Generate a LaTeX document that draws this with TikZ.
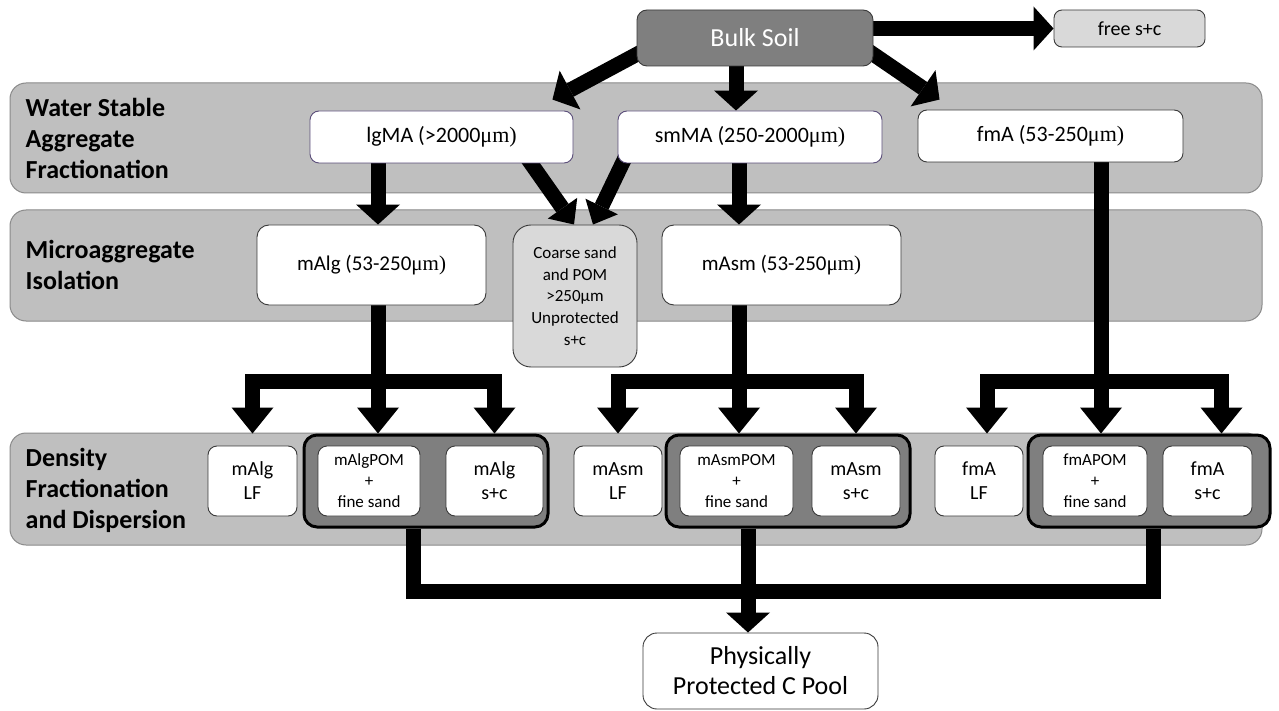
\documentclass[tikz,border=0pt]{standalone}
\usepackage{fontspec}
\setmainfont{Carlito}
\newfontfamily\mufont{Liberation Serif}
\usetikzlibrary{arrows.meta,calc}
\pgfdeclarelayer{bglayer}
\pgfdeclarelayer{midlayer}
\pgfsetlayers{bglayer,midlayer,main}
\definecolor{bandgray}{HTML}{BFBFBF}
\definecolor{bandedge}{HTML}{8A8A8A}
\definecolor{darkbox}{HTML}{7F7F7F}
\definecolor{lightbox}{HTML}{D9D9D9}
\definecolor{purpedge}{HTML}{5B4E7A}
\definecolor{boxedge}{HTML}{3A3A3A}
\newcommand{\umr}{{\mufont μm)}}
\begin{document}
\begin{tikzpicture}[x=1pt,y=-1pt,
  band/.style={draw=bandedge, fill=bandgray, rounded corners=16pt, line width=1pt,
    minimum width=1252pt, inner sep=0pt},
  bandlabel/.style={anchor=west, align=left, inner sep=0pt,
    font=\fontsize{26}{31}\selectfont\bfseries},
  wbox/.style={draw=boxedge, fill=white, rounded corners=9pt, line width=0.9pt,
    align=center, inner sep=0pt},
  topbox/.style={wbox, font=\fontsize{22}{26}\selectfont, minimum height=52pt},
  midbox/.style={wbox, font=\fontsize{21}{25}\selectfont, minimum height=80pt, rounded corners=12pt},
  pombox/.style={wbox, font=\fontsize{17}{21}\selectfont, minimum height=70pt},
  fracbox/.style={wbox, font=\fontsize{20}{24}\selectfont, minimum height=70pt},
  gbox/.style={draw=black, fill=darkbox, rounded corners=13pt, line width=3pt,
    inner sep=0pt, minimum height=92pt},
  thickline/.style={line width=15pt, line join=miter, draw=black},
  conn/.style={thickline, >={Triangle[length=20pt,width=44pt,line width=0pt]}, ->},
  conns/.style={thickline, >={Triangle[length=20pt,width=36pt,line width=0pt]}, ->},
  connd/.style={thickline, >={Triangle[length=26pt,width=42pt,line width=0pt]}, ->},
  connboth/.style={connd, <->}
]
\useasboundingbox (0,0) rectangle (1279,711);

% ---------- nodes ----------
\node[draw=boxedge, fill=darkbox, rounded corners=10pt, line width=0.9pt, inner sep=0pt,
  minimum width=236pt, minimum height=56pt, text=white,
  font=\fontsize{26}{30}\selectfont] (bulk) at (755,38) {Bulk Soil};
\node[draw=boxedge, fill=lightbox, rounded corners=8pt, line width=0.9pt, inner sep=0pt,
  minimum width=151pt, minimum height=37pt,
  font=\fontsize{20}{24}\selectfont] (free) at (1129.5,28.5) {free s+c};

\node[topbox, draw=purpedge, minimum width=263pt] (lgMA) at (441.5,137) {lgMA (>2000\umr};
\node[topbox, draw=purpedge, minimum width=264pt] (smMA) at (750,137) {smMA (250-2000\umr};
\node[topbox, minimum width=265pt] (fmA) at (1050.5,136) {fmA (53-250\umr};

\node[midbox, minimum width=229pt] (mAlg) at (371.5,265) {mAlg (53-250\umr};
\node[midbox, minimum width=239pt] (mAsm) at (781.5,265) {mAsm (53-250\umr};
\node[wbox, fill=lightbox, rounded corners=18pt, minimum width=124pt, minimum height=142pt,
  font=\fontsize{17}{21.7}\selectfont] (coarse) at (575,296)
  {Coarse sand\\and POM\\>250µm\\Unprotected\\s+c};

\node[gbox, minimum width=244pt] (g1) at (426,481) {};
\node[gbox, minimum width=244pt] (g2) at (788,481) {};
\node[gbox, minimum width=242pt] (g3) at (1149,481) {};

\node[fracbox, minimum width=89pt] (mAlgLF) at (252.5,481) {mAlg\\LF};
\node[pombox, minimum width=102pt] (mAlgPOM) at (369,481) {mAlgPOM\\+\\fine sand};
\node[fracbox, minimum width=97pt] (mAlgSC) at (494.5,481) {mAlg\\s+c};
\node[fracbox, minimum width=88pt] (mAsmLF) at (618,481) {mAsm\\LF};
\node[pombox, minimum width=113pt] (mAsmPOM) at (736.5,481) {mAsmPOM\\+\\fine sand};
\node[fracbox, minimum width=88pt] (mAsmSC) at (856,481) {mAsm\\s+c};
\node[fracbox, minimum width=88pt] (fmALF) at (979,481) {fmA\\LF};
\node[pombox, minimum width=104pt] (fmAPOM) at (1095,481) {fmAPOM\\+\\fine sand};
\node[fracbox, minimum width=89pt] (fmASC) at (1207.5,481) {fmA\\s+c};

\node[wbox, rounded corners=14pt, minimum width=235pt, minimum height=76pt,
  font=\fontsize{26}{30}\selectfont] (pool) at (760.5,671) {Physically\\Protected C Pool};

% ---------- bands ----------
\begin{pgfonlayer}{bglayer}
\fill[white] (0,0) rectangle (1279,711);
\node[band, minimum height=110pt] (band1) at (636,138) {};
\node[band, minimum height=111pt] (band2) at (636,265.5) {};
\node[band, minimum height=112pt] (band3) at (636,489) {};
\node[bandlabel] (lab1) at ($(band1.west)+(16,0)$) {Water Stable\\Aggregate\\Fractionation};
\node[bandlabel] (lab2) at ($(band2.west)+(16,-1)$) {Microaggregate\\Isolation};
\node[bandlabel] (lab3) at ($(band3.west)+(16,1)$) {Density\\Fractionation\\and Dispersion};
\end{pgfonlayer}

% ---------- connectors ----------
\coordinate (jA) at (378,381);
\coordinate (jB) at (739,381);
\coordinate (jC) at (1101,381);
\coordinate (jP) at (748,591);

\begin{pgfonlayer}{midlayer}
\draw[conn] (bulk.east |- free.west) -- (free.west);
\draw[conn] ($(bulk.south west)+(13,-19)$) -- ($(lgMA.north east)+(-21,-11)$);
\draw[conn] ($(bulk.south)+(-19,0)$) -- ($(smMA.north)+(-14,0)$);
\draw[conn] ($(bulk.south east)+(-13,-21)$) -- ($(fmA.north west)+(22,-10)$);

\draw[conn] (lgMA.south -| jA) -- (mAlg.north -| jA);
\draw[conns] ($(lgMA.south east)+(-53,-15)$) -- ($(coarse.north)+(-1,0)$);
\draw[conns] ($(smMA.south west)+(12,-15)$) -- ($(coarse.north)+(18,0)$);
\draw[conn] (smMA.south -| jB) -- (mAsm.north -| jB);

\draw[thickline] (mAlg.south -| jA) -- (jA);
\draw[thickline] (mAsm.south -| jB) -- (jB);
\draw[thickline] (fmA.south -| jC) -- (jC);

\draw[connboth] (mAlgLF.north |- g1.north) |- (jA) -| (mAlgSC.north |- g1.north);
\draw[connd] (jA) -- (jA |- g1.north);
\draw[connboth] (mAsmLF.north |- g2.north) |- (jB) -| (mAsmSC.north |- g2.north);
\draw[connd] (jB) -- (jB |- g2.north);
\draw[connboth] ($(fmALF.north |- g3.north)+(8,0)$) |- (jC) -| ($(fmASC.north |- g3.north)+(14,0)$);
\draw[connd] (jC) -- (jC |- g3.north);

\draw[thickline] ($(g1.south)+(-13,0)$) |- (jP) -| ($(g3.south)+(4,0)$);
\draw[conn] (g2.south -| jP) -- (jP |- pool.north);
\end{pgfonlayer}
\end{tikzpicture}
\end{document}
